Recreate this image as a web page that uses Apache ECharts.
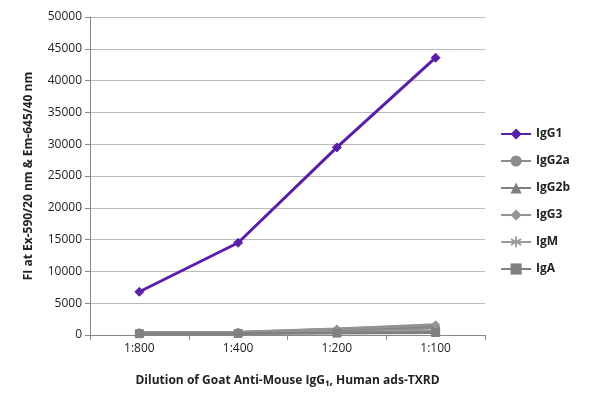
<!DOCTYPE html><html><head><meta charset="utf-8"><script src="https://cdn.jsdelivr.net/npm/echarts@6/dist/echarts.min.js"></script></head><body style="margin:0"><div id="c" style="width:600px;height:403px"></div><script>
const categories=['1:800','1:400','1:200','1:100'];
const IgG1=[6800,14500,29500,43600];
const IgG2a=[300,350,700,1100];
const IgG2b=[350,400,900,1500];
const IgG3=[400,450,950,1600];
const IgM=[250,300,400,600];
const IgA=[200,250,300,400];
const names=['IgG1','IgG2a','IgG2b','IgG3','IgM','IgA'];
const data=[IgG1,IgG2a,IgG2b,IgG3,IgM,IgA];
const symbols=['diamond','circle','triangle','diamond','path://M-1,-6L1,-6L1,-1.5L5,-4L6,-2.5L2,0L6,2.5L5,4L1,1.5L1,6L-1,6L-1,1.5L-5,4L-6,2.5L-2,0L-6,-2.5L-5,-4L-1,-1.5Z','rect'];
const colors=['#5a1fa8','#8c8c8c','#7f7f7f','#939393','#9a9a9a','#808080'];
const ch=echarts.init(document.getElementById('c'));
ch.setOption({
 textStyle:{fontFamily:'Open Sans'},
 grid:{left:90,right:115,top:17,bottom:68},
 legend:{orient:'vertical',right:25,top:'middle',itemGap:15,itemWidth:30,textStyle:{fontWeight:'bold',fontSize:12,color:'#222'},data:names},
 xAxis:{type:'category',data:categories,boundaryGap:true,name:'Dilution of Goat Anti-Mouse IgG₁, Human ads-TXRD',nameLocation:'middle',nameGap:40,nameTextStyle:{fontWeight:'bold',fontSize:12,color:'#222'},axisLine:{lineStyle:{color:'#888'}},axisTick:{show:true},axisLabel:{color:'#222',fontSize:12}},
 yAxis:{type:'value',min:0,max:50000,interval:5000,name:'FI at Ex-590/20 nm & Em-645/40 nm',nameLocation:'middle',nameGap:55,nameTextStyle:{fontWeight:'bold',fontSize:12,color:'#222'},axisLine:{show:true,lineStyle:{color:'#888'}},axisTick:{show:true},axisLabel:{color:'#222',fontSize:12,formatter:v=>String(v)},splitLine:{lineStyle:{color:'#bbb'}}},
 series:names.map((n,i)=>({name:n,type:'line',data:data[i],symbol:symbols[i],symbolSize:i==0?9:8,lineStyle:{width:3,color:colors[i]},itemStyle:{color:colors[i],borderColor:colors[i]},z:i==0?10:2}))
});
</script></body></html>
